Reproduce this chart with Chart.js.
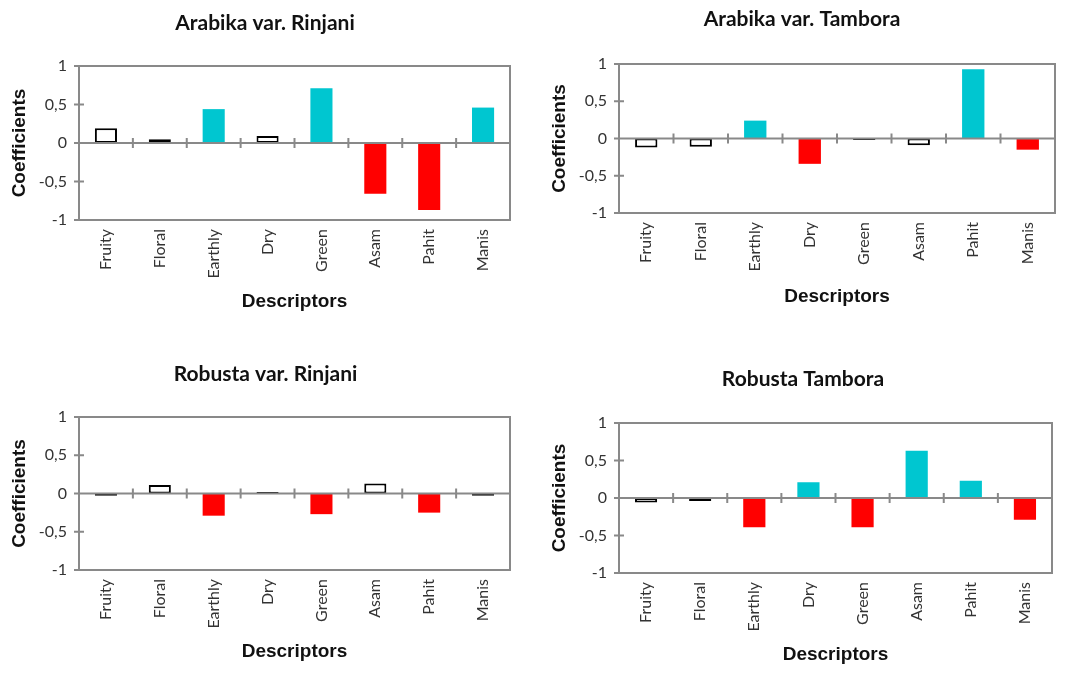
<!DOCTYPE html>
<html>
<head>
<meta charset="utf-8">
<script src="https://cdn.jsdelivr.net/npm/chart.js@4.4.1/dist/chart.umd.min.js"></script>
<style>
  html, body { margin: 0; padding: 0; background: #ffffff; }
  #wrap { position: relative; width: 1073px; height: 675px; overflow: hidden; background: #ffffff; }
  canvas { position: absolute; }
</style>
</head>
<body>
<div id="wrap">
  <canvas id="c1" width="530" height="337" style="left:0px;top:0px;"></canvas>
  <canvas id="c2" width="533" height="337" style="left:540px;top:0px;"></canvas>
  <canvas id="c3" width="531" height="338" style="left:0px;top:337px;"></canvas>
  <canvas id="c4" width="533" height="338" style="left:540px;top:337px;"></canvas>
</div>
<script>
// ---------- data ----------
const descriptors = ['Fruity', 'Floral', 'Earthly', 'Dry', 'Green', 'Asam', 'Pahit', 'Manis'];
const yTickValues = [-1, -0.5, 0, 0.5, 1];

const arabikaRinjani = [0.19, 0.05, 0.44, 0.09, 0.71, -0.66, -0.87, 0.46];
const arabikaTambora = [-0.12, -0.11, 0.24, -0.34, -0.02, -0.09, 0.93, -0.15];
const robustaRinjani = [-0.03, 0.11, -0.29, 0.02, -0.27, 0.13, -0.25, -0.03];
const robustaTambora = [-0.06, -0.04, -0.39, 0.21, -0.39, 0.63, 0.23, -0.29];

// 1 = significant descriptor, 0 = not significant
const sigArabikaRinjani = [0, 0, 1, 0, 1, 1, 1, 1];
const sigArabikaTambora = [0, 0, 1, 1, 0, 0, 1, 1];
const sigRobustaRinjani = [0, 0, 1, 0, 1, 0, 1, 0];
const sigRobustaTambora = [0, 0, 1, 1, 1, 1, 1, 1];

const titles = ['Arabika var. Rinjani', 'Arabika var. Tambora', 'Robusta var. Rinjani', 'Robusta Tambora'];

// ---------- styles ----------
const GRID = '#898989';
const CYAN = '#00C6D0';
const RED = '#FF0000';

const framePlugin = {
  id: 'frame',
  afterDatasetsDraw(chart) {
    const { ctx, chartArea: a, scales } = chart;
    const x = scales.x, y = scales.y;
    ctx.save();
    ctx.strokeStyle = GRID;
    ctx.lineWidth = 2;
    const y0 = y.getPixelForValue(0);
    ctx.beginPath();
    ctx.moveTo(a.left, y0);
    ctx.lineTo(a.right, y0);
    for (let i = 1; i < x.ticks.length; i++) {
      const px = (x.getPixelForTick(i - 1) + x.getPixelForTick(i)) / 2;
      ctx.moveTo(px, y0 - 5);
      ctx.lineTo(px, y0 + 5);
    }
    y.ticks.forEach((t, i) => {
      const py = y.getPixelForTick(i);
      ctx.moveTo(a.left - 5, py);
      ctx.lineTo(a.left + 5, py);
    });
    ctx.stroke();
    ctx.strokeRect(a.left, a.top, a.right - a.left, a.bottom - a.top);
    ctx.restore();
  }
};

function makeChart(id, title, values, sig, L) {
  const bg = values.map((v, i) => sig[i] ? (v >= 0 ? CYAN : RED) : '#ffffff');
  const bc = values.map((v, i) => sig[i] ? (v >= 0 ? CYAN : RED) : '#000000');
  const bw = values.map((v, i) => sig[i] ? 0 : 2);
  return new Chart(document.getElementById(id), {
    type: 'bar',
    data: {
      labels: descriptors,
      datasets: [{
        data: values,
        backgroundColor: bg,
        borderColor: bc,
        borderWidth: bw,
        borderSkipped: false,
        barPercentage: 0.41,
        categoryPercentage: 1.0
      }]
    },
    options: {
      responsive: false,
      animation: false,
      devicePixelRatio: 1,
      layout: { padding: { left: 0, right: L.padR, top: 0, bottom: L.padB } },
      plugins: {
        legend: { display: false },
        tooltip: { enabled: false },
        title: {
          display: true,
          text: title,
          color: '#111111',
          font: { family: 'Lato', weight: 'bold', size: 21, lineHeight: 1.2 },
          padding: { top: L.tTop, bottom: L.tBot }
        }
      },
      scales: {
        x: {
          type: 'category',
          offset: true,
          grid: { display: false, drawTicks: false },
          border: { display: false },
          ticks: {
            minRotation: 90, maxRotation: 90, autoSkip: false, padding: 9,
            color: '#333333',
            font: { family: 'Lato', size: 16 }
          },
          title: {
            display: true, text: 'Descriptors', color: '#111111',
            font: { family: 'Liberation Sans', weight: 'bold', size: 19, lineHeight: 1.2 },
            padding: { top: 0, bottom: 0 }
          },
          afterFit(s) { s.height = L.xH; }
        },
        y: {
          min: -1, max: 1,
          grid: { display: false, drawTicks: false },
          border: { display: false },
          afterBuildTicks(s) { s.ticks = yTickValues.map(v => ({ value: v })); },
          ticks: {
            padding: 12,
            color: '#333333',
            font: { family: 'Lato', size: 16 },
            callback: (v) => String(v).replace('.', ',')
          },
          title: {
            display: true, text: 'Coefficients', color: '#111111',
            font: { family: 'Liberation Sans', weight: 'bold', size: 19, lineHeight: 1.2 },
            padding: { top: 8, bottom: 0 }
          },
          afterFit(s) { s.width = 79; }
        },
        y2: {
          type: 'linear',
          position: 'right',
          grid: { display: false, drawTicks: false },
          border: { display: false },
          ticks: { display: false },
          afterFit(s) { s.width = L.y2W; }
        }
      }
    },
    plugins: [framePlugin]
  });
}

makeChart('c1', titles[0], arabikaRinjani, sigArabikaRinjani,
  { padR: 0, padB: 23.6, tTop: 10.4, tBot: 30.4, xH: 93.4, y2W: 20 });
makeChart('c2', titles[1], arabikaTambora, sigArabikaTambora,
  { padR: 9, padB: 28.6, tTop: 6.4, tBot: 32.4, xH: 95.4, y2W: 9 });
makeChart('c3', titles[2], robustaRinjani, sigRobustaRinjani,
  { padR: 0, padB: 11.6, tTop: 24.4, tBot: 30.4, xH: 93.4, y2W: 21 });
makeChart('c4', titles[3], robustaTambora, sigRobustaTambora,
  { padR: 7, padB: 8.6, tTop: 29.4, tBot: 31.4, xH: 93.4, y2W: 14 });
</script>
</body>
</html>
